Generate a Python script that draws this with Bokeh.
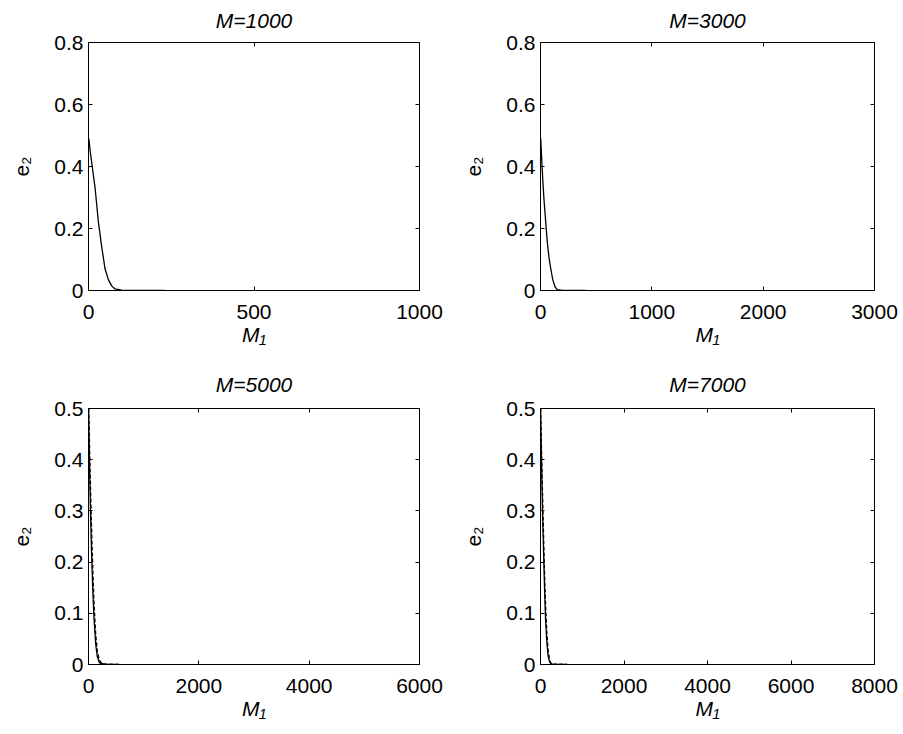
from bokeh.plotting import figure
from bokeh.layouts import gridplot
from bokeh.models import LinearAxis, FixedTicker, Range1d, CustomLabelingPolicy
from bokeh.embed import file_html
from bokeh.resources import INLINE

# ---------------- data ----------------
titles = ["M=1000", "M=3000", "M=5000", "M=7000"]
x_axis_label = "M\u2081"
y_axis_label = "e\u2082"

x_max = [1000, 3000, 6000, 8000]
x_ticks_p1 = [0, 500, 1000]
x_ticks_p2 = [0, 1000, 2000, 3000]
x_ticks_p3 = [0, 2000, 4000, 6000]
x_ticks_p4 = [0, 2000, 4000, 6000, 8000]

y_max_top = 0.8
y_ticks_top = [0, 0.2, 0.4, 0.6, 0.8]
y_labels_top = ["0", "0.2", "0.4", "0.6", "0.8"]
y_max_bottom = 0.5
y_ticks_bottom = [0, 0.1, 0.2, 0.3, 0.4, 0.5]
y_labels_bottom = ["0", "0.1", "0.2", "0.3", "0.4", "0.5"]

# M = 1000
p1_x = [1, 5, 10, 15, 20, 30, 40, 50, 60, 70, 80, 100, 150, 230]
p1_y = [0.49, 0.45, 0.41, 0.37, 0.33, 0.22, 0.14, 0.07, 0.035, 0.015, 0.005, 0.001, 0, 0]
# M = 3000
p2_x = [2, 10, 20, 30, 45, 60, 75, 90, 110, 130, 150, 200, 300, 405]
p2_y = [0.49, 0.43, 0.36, 0.30, 0.23, 0.16, 0.11, 0.075, 0.035, 0.012, 0.003, 0.0005, 0, 0]
# M = 5000 (solid and dashed)
p3_x = [0, 10, 20, 40, 60, 80, 100, 130, 160, 200, 300, 550]
p3_y = [0.5, 0.44, 0.38, 0.28, 0.20, 0.14, 0.09, 0.04, 0.015, 0.003, 0, 0]
p3_dx = [5, 20, 40, 60, 80, 100, 130, 160, 200, 250, 550]
p3_dy = [0.5, 0.42, 0.33, 0.25, 0.18, 0.12, 0.06, 0.025, 0.008, 0.001, 0]
# M = 7000 (solid and dashed)
p4_x = [0, 15, 30, 50, 80, 100, 120, 150, 180, 220, 300, 640]
p4_y = [0.5, 0.43, 0.37, 0.29, 0.20, 0.14, 0.09, 0.045, 0.018, 0.004, 0, 0]
p4_dx = [5, 25, 50, 80, 100, 120, 150, 180, 220, 260, 640]
p4_dy = [0.5, 0.42, 0.33, 0.23, 0.17, 0.12, 0.065, 0.03, 0.008, 0.001, 0]

FONT = "Liberation Sans"


def mirror_axis(ticks):
    ax = LinearAxis(ticker=FixedTicker(ticks=ticks))
    ax.axis_line_color = None
    ax.major_tick_in = 4
    ax.major_tick_out = 0
    ax.minor_tick_in = 0
    ax.minor_tick_out = 0
    ax.major_tick_line_color = "black"
    ax.major_label_text_font_size = "1px"
    ax.major_label_standoff = 0
    ax.major_label_policy = CustomLabelingPolicy(code="return []")
    return ax


def make_panel(title, xmax, xticks, ymax, yticks, ylabels, curves,
               left, right, top, bottom, fw, fh, title_standoff):
    p = figure(frame_width=fw, frame_height=fh,
               min_border_left=left, min_border_right=right,
               min_border_top=top, min_border_bottom=bottom,
               x_range=Range1d(0, xmax), y_range=Range1d(0, ymax),
               output_backend="svg", toolbar_location=None,
               background_fill_color="white", border_fill_color="white")
    p.grid.visible = False
    p.outline_line_color = "black"
    p.outline_line_width = 1
    p.outline_line_alpha = 1

    p.title.text = title
    p.title.text_font = FONT
    p.title.text_font_size = "21px"
    p.title.text_font_style = "italic"
    p.title.align = "center"
    p.title.text_color = "black"
    p.title.standoff = title_standoff

    for ax, ticks in ((p.xaxis[0], xticks), (p.yaxis[0], yticks)):
        ax.ticker = FixedTicker(ticks=ticks)
        ax.axis_line_color = "black"
        ax.major_tick_in = 4
        ax.major_tick_out = 0
        ax.minor_tick_in = 0
        ax.minor_tick_out = 0
        ax.major_tick_line_color = "black"
        ax.major_label_text_font = FONT
        ax.major_label_text_font_size = "21px"
        ax.major_label_text_color = "black"
        ax.axis_label_text_font = FONT
        ax.axis_label_text_font_size = "21px"
        ax.axis_label_text_color = "black"
    p.xaxis[0].major_label_standoff = 14
    p.yaxis[0].major_label_standoff = 5
    p.xaxis[0].major_label_overrides = {t: str(t) for t in xticks}
    p.yaxis[0].major_label_overrides = dict(zip(yticks, ylabels))

    p.xaxis[0].axis_label = x_axis_label
    p.xaxis[0].axis_label_text_font_style = "italic"
    p.xaxis[0].axis_label_standoff = 1
    p.yaxis[0].axis_label = y_axis_label
    p.yaxis[0].axis_label_text_font_style = "normal"
    p.yaxis[0].axis_label_standoff = 18

    p.add_layout(mirror_axis(xticks), "above")
    p.add_layout(mirror_axis(yticks), "right")

    for xs, ys, dash in curves:
        p.line(xs, ys, line_color="black", line_width=1.3, line_dash=dash)
    return p


p1 = make_panel(titles[0], x_max[0], x_ticks_p1, y_max_top, y_ticks_top, y_labels_top,
                [(p1_x, p1_y, "solid")], 88, 40, 42, 71, 331, 248, 13)
p2 = make_panel(titles[1], x_max[1], x_ticks_p2, y_max_top, y_ticks_top, y_labels_top,
                [(p2_x, p2_y, "solid")], 81, 27, 42, 71, 334, 248, 13)
p3 = make_panel(titles[2], x_max[2], x_ticks_p3, y_max_bottom, y_ticks_bottom, y_labels_bottom,
                [(p3_x, p3_y, "solid"), (p3_dx, p3_dy, "4 2")], 88, 40, 47, 68, 331, 256, 18)
p4 = make_panel(titles[3], x_max[3], x_ticks_p4, y_max_bottom, y_ticks_bottom, y_labels_bottom,
                [(p4_x, p4_y, "solid"), (p4_dx, p4_dy, "4 2")], 81, 27, 47, 68, 334, 256, 18)

grid = gridplot([[p1, p2], [p3, p4]], toolbar_location=None)

open("out.html", "w").write(file_html(grid, INLINE))
